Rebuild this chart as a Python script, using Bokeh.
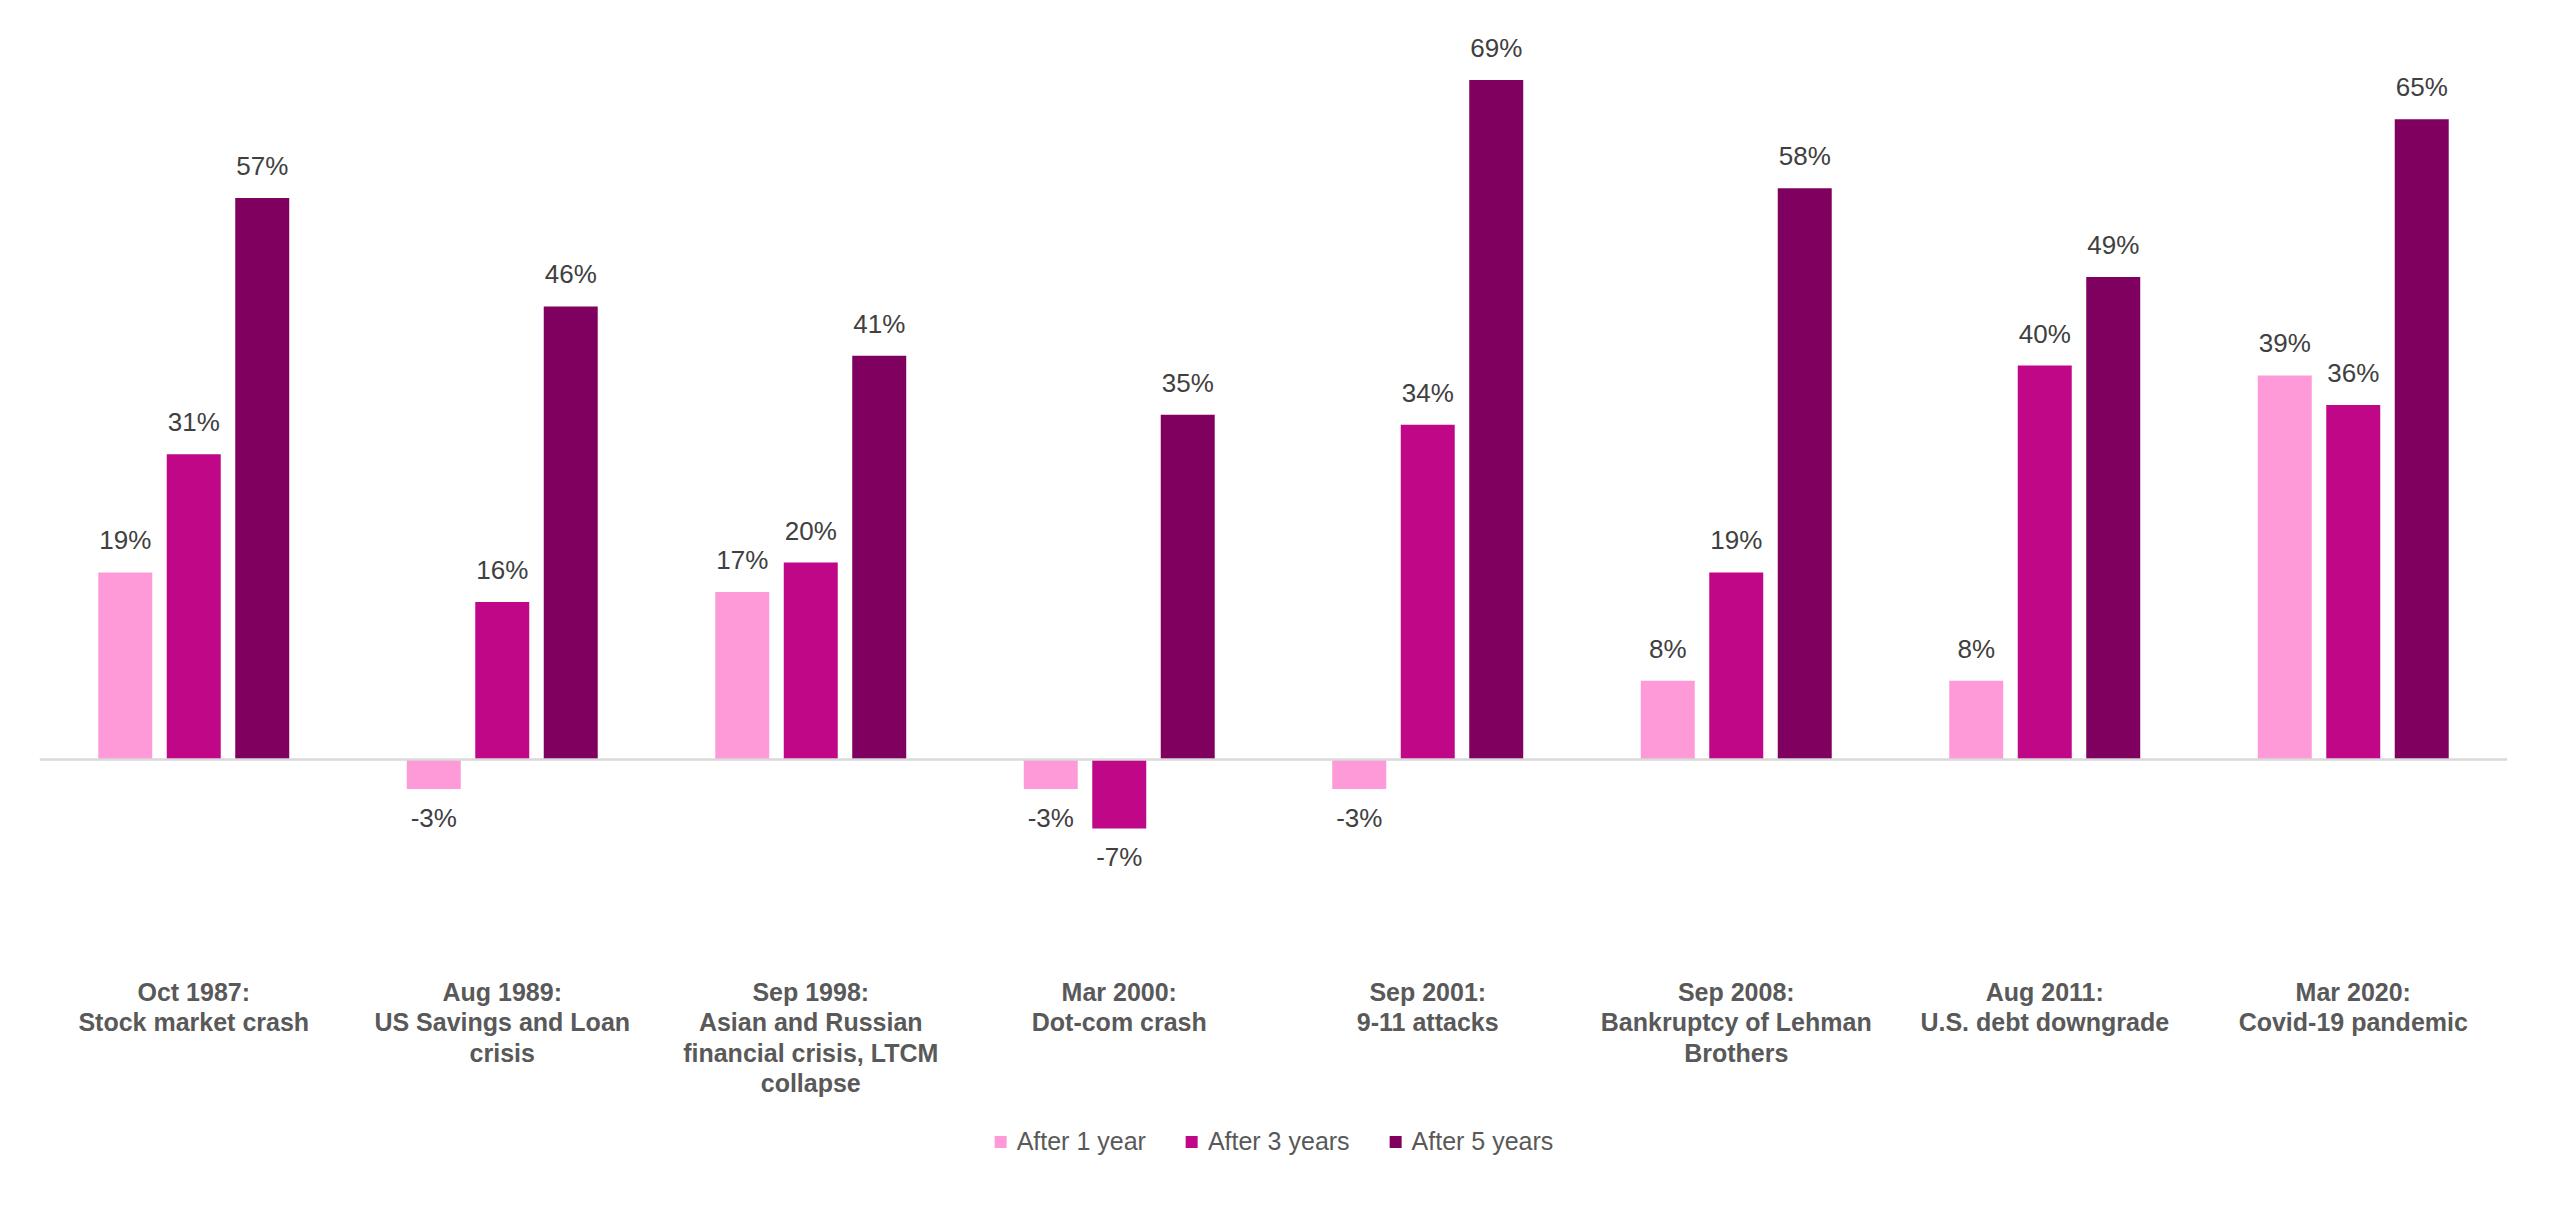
from bokeh.plotting import figure
from bokeh.models import ColumnDataSource, FactorRange, Range1d, Span, Legend, LegendItem
from bokeh.core.properties import value
from bokeh.transform import dodge
from bokeh.embed import file_html
from bokeh.resources import INLINE

categories = [
    "Oct 1987:\nStock market crash",
    "Aug 1989:\nUS Savings and Loan\ncrisis",
    "Sep 1998:\nAsian and Russian\nfinancial crisis, LTCM\ncollapse",
    "Mar 2000:\nDot-com crash",
    "Sep 2001:\n9-11 attacks",
    "Sep 2008:\nBankruptcy of Lehman\nBrothers",
    "Aug 2011:\nU.S. debt downgrade",
    "Mar 2020:\nCovid-19 pandemic",
]
series_names = ["After 1 year", "After 3 years", "After 5 years"]
after_1_year = [19, -3, 17, -3, -3, 8, 8, 39]
after_3_years = [31, 16, 20, -7, 34, 19, 40, 36]
after_5_years = [57, 46, 41, 35, 69, 58, 49, 65]
colors = ["#FF9AD8", "#C00788", "#800060"]

FONT = "Liberation Sans"

p = figure(
    x_range=FactorRange(*categories),
    y_range=Range1d(-44.77, 75.03),
    frame_width=2468, frame_height=1180,
    min_border_left=39, min_border_right=10, min_border_top=20, min_border_bottom=0,
    output_backend="svg", toolbar_location=None,
    x_axis_location=None, y_axis_location=None,
)
p.outline_line_color = None
p.xgrid.grid_line_color = None
p.ygrid.grid_line_color = None
p.background_fill_color = "white"
p.border_fill_color = "white"

p.add_layout(Span(location=0, dimension="width", line_color="#D9D9D9", line_width=2.5))

offsets = [-0.222, 0.0, 0.222]
items = []
for vals, name, col, off in zip([after_1_year, after_3_years, after_5_years], series_names, colors, offsets):
    src = ColumnDataSource(dict(
        cat=categories,
        val=vals,
        lab=[f"{v}%" for v in vals],
        yoff=[-32 if v >= 0 else 29 for v in vals],
    ))
    r = p.vbar(x=dodge("cat", off, range=p.x_range), top="val", bottom=0, width=0.175,
               source=src, fill_color=col, line_color=None)
    p.text(x=dodge("cat", off, range=p.x_range), y="val", text="lab", y_offset="yoff",
           source=src, text_align="center", text_baseline="alphabetic",
           text_font_size="26px", text_color="#404040", text_font=value(FONT))
    items.append(LegendItem(label=name, renderers=[r]))

# category labels (below the chart area)
cat_src = ColumnDataSource(dict(cat=categories, y=[-22.2] * len(categories)))
p.text(x="cat", y="y", text="cat", source=cat_src, text_align="center", text_baseline="top",
       text_font=value(FONT), text_font_style="bold", text_font_size="25px",
       text_color="#595959", text_line_height=1.08)

legend = Legend(items=items, orientation="horizontal", location="bottom_center",
                label_text_font=FONT, label_text_font_size="25px",
                label_text_color="#595959", glyph_width=15, glyph_height=15,
                label_standoff=9, spacing=38, padding=0, margin=44,
                border_line_color=None, background_fill_alpha=0)
p.add_layout(legend, "center")

open("out.html", "w").write(file_html(p, INLINE))
